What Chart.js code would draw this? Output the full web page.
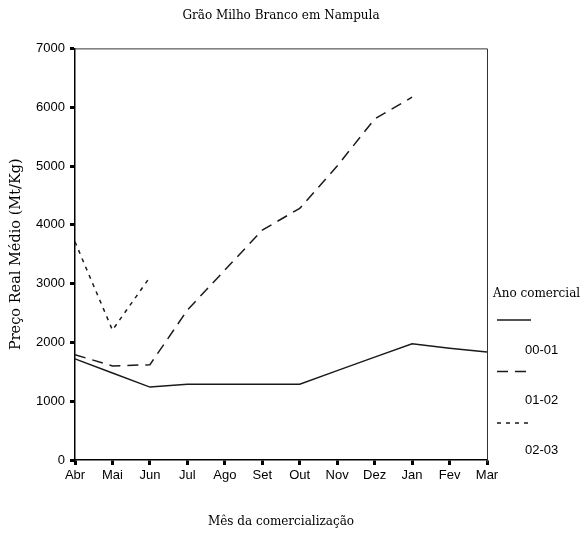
<!DOCTYPE html>
<html>
<head>
<meta charset="utf-8">
<script src="https://cdn.jsdelivr.net/npm/chart.js@4"></script>
<style>
  body { margin: 0; background: #fff; }
  canvas { display: block; }
</style>
</head>
<body>
<canvas id="chart" width="582" height="542"></canvas>
<script>
const months = ["Abr", "Mai", "Jun", "Jul", "Ago", "Set", "Out", "Nov", "Dez", "Jan", "Fev", "Mar"];
const ano0001 = [1720, 1480, 1240, 1290, 1290, 1290, 1290, 1520, 1750, 1975, 1900, 1835];
const ano0102 = [1790, 1600, 1620, 2550, 3230, 3910, 4280, 5000, 5800, 6170, null, null];
const ano0203 = [3710, 2210, 3110, null, null, null, null, null, null, null, null, null];
const seriesNames = ["00-01", "01-02", "02-03"];
const legendTitle = "Ano comercial";

const serif = "'DejaVu Serif', serif";
const sans = "'Liberation Sans', Arial, sans-serif";
const ink = "#1a1a1a";

// frame on top and right of plot area
const framePlugin = {
  id: "frame",
  afterDraw(chart) {
    const { ctx, chartArea: a } = chart;
    ctx.save();
    ctx.strokeStyle = "#333";
    ctx.lineWidth = 1;
    ctx.beginPath();
    ctx.moveTo(a.left, a.top + 0.5);
    ctx.lineTo(a.right + 0.5, a.top + 0.5);
    ctx.lineTo(a.right + 0.5, a.bottom + 3);
    ctx.stroke();
    ctx.restore();
  }
};

// legend: title, then line sample with label under it
const legendPlugin = {
  id: "sideLegend",
  afterDraw(chart) {
    const ctx = chart.ctx;
    const x0 = chart.chartArea.right + 6;
    ctx.save();
    ctx.fillStyle = "#000";
    ctx.textBaseline = "middle";
    ctx.textAlign = "left";
    ctx.font = "12px " + serif;
    ctx.fillText(legendTitle, x0, 294);
    chart.data.datasets.forEach((ds, i) => {
      const y = 320 + i * 51.5;
      ctx.strokeStyle = ds.borderColor;
      ctx.lineWidth = ds.borderWidth;
      ctx.setLineDash(ds.borderDash || []);
      ctx.beginPath();
      ctx.moveTo(x0 + 4, y);
      ctx.lineTo(x0 + 38, y);
      ctx.stroke();
      ctx.setLineDash([]);
      ctx.font = "13px " + sans;
      ctx.fillText(ds.label, x0 + 32, 350 + i * 50);
    });
    ctx.restore();
  }
};

new Chart(document.getElementById("chart"), {
  type: "line",
  data: {
    labels: months,
    datasets: [
      { label: seriesNames[0], data: ano0001, borderColor: ink, borderWidth: 1.5, borderDash: [] },
      { label: seriesNames[1], data: ano0102, borderColor: ink, borderWidth: 1.5, borderDash: [11, 7] },
      { label: seriesNames[2], data: ano0203, borderColor: ink, borderWidth: 1.5, borderDash: [4, 5] }
    ]
  },
  options: {
    responsive: false,
    animation: false,
    layout: { padding: { top: 0, right: 95, bottom: 0, left: 0 } },
    elements: { point: { radius: 0 }, line: { tension: 0 } },
    plugins: {
      legend: { display: false },
      tooltip: { enabled: false },
      title: {
        display: true,
        fullSize: false,
        text: "Grão Milho Branco em Nampula",
        color: "#000",
        font: { family: serif, size: 12, weight: "normal" },
        padding: { top: 9, bottom: 25 }
      }
    },
    scales: {
      x: {
        type: "category",
        offset: false,
        afterFit(scale) { scale.height = 82; },
        grid: { display: true, drawOnChartArea: false, tickLength: 5, tickWidth: 3, tickColor: "#000" },
        border: { display: true, color: "#000", width: 1.5 },
        ticks: { color: "#000", font: { family: sans, size: 13 }, padding: 3, maxRotation: 0, autoSkip: false },
        title: {
          display: true,
          text: "Mês da comercialização",
          color: "#000",
          font: { family: serif, size: 12 },
          padding: { top: 0, bottom: 13 }
        }
      },
      y: {
        min: 0,
        max: 7000,
        afterFit(scale) { scale.width = 75; },
        grid: { display: true, drawOnChartArea: false, tickLength: 5, tickWidth: 3, tickColor: "#000" },
        border: { display: true, color: "#000", width: 1.5 },
        ticks: {
          stepSize: 1000, color: "#000", font: { family: sans, size: 13 }, padding: 5,
          callback: v => String(v)
        },
        title: {
          display: true,
          text: "Preço Real Médio (Mt/Kg)",
          color: "#000",
          font: { family: serif, size: 14.5 },
          padding: { top: 8, bottom: 0 }
        }
      }
    }
  },
  plugins: [framePlugin, legendPlugin]
});
</script>
</body>
</html>
